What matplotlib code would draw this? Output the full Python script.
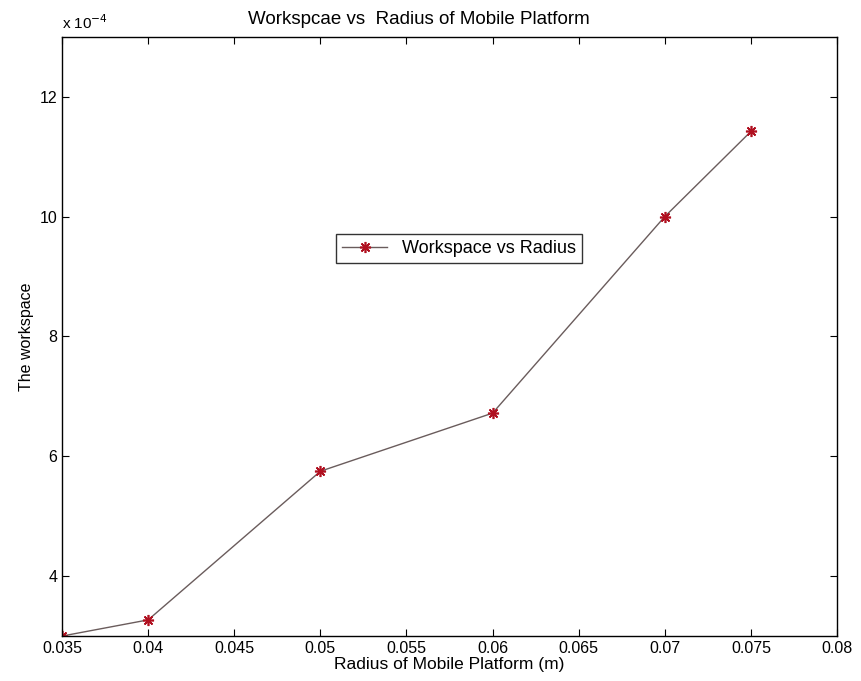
import numpy as np
import matplotlib.pyplot as plt

plt.rcParams['font.family'] = ['Liberation Sans', 'DejaVu Sans']

# data
radius = [0.035, 0.04, 0.05, 0.06, 0.07, 0.075]
workspace = [3.0e-4, 3.27e-4, 5.75e-4, 6.72e-4, 10.0e-4, 11.42e-4]

xticks = [0.035, 0.04, 0.045, 0.05, 0.055, 0.06, 0.065, 0.07, 0.075, 0.08]
xticklabels = ['0.035', '0.04', '0.045', '0.05', '0.055', '0.06', '0.065', '0.07', '0.075', '0.08']
yticks = [4, 6, 8, 10, 12]

fig = plt.figure(figsize=(8.62, 6.81), dpi=100)
ax = fig.add_axes([0.072, 0.066, 0.899, 0.88])

y = np.array(workspace) * 1e4
ax.plot(radius, y, color='#6a5c5c', lw=1.0, marker=(8, 2, 0), markersize=8,
        markeredgewidth=1.2, markeredgecolor='#b01020',
        label='Workspace vs Radius')

ax.set_xlim(0.035, 0.08)
ax.set_ylim(3, 13)
ax.set_xticks(xticks)
ax.set_xticklabels(xticklabels)
ax.set_yticks(yticks)
ax.tick_params(direction='in', top=True, right=True, length=5, labelsize=11.5)
for s in ax.spines.values():
    s.set_linewidth(1.0)

ax.text(0.0, 1.008, r'x 10$^{-4}$', transform=ax.transAxes, fontsize=11, ha='left', va='bottom')
ax.set_title('Workspcae vs  Radius of Mobile Platform', fontsize=13.5, pad=9, x=0.46)
ax.set_xlabel('Radius of Mobile Platform (m)', fontsize=12.5, labelpad=1)
ax.set_ylabel('The workspace', fontsize=11.5)

leg = ax.legend(loc='center', bbox_to_anchor=(0.512, 0.647), fancybox=False,
                edgecolor='black', fontsize=13, handlelength=2.5, borderpad=0.35)
leg.get_frame().set_linewidth(1.0)

plt.savefig('out.png', dpi=100)
